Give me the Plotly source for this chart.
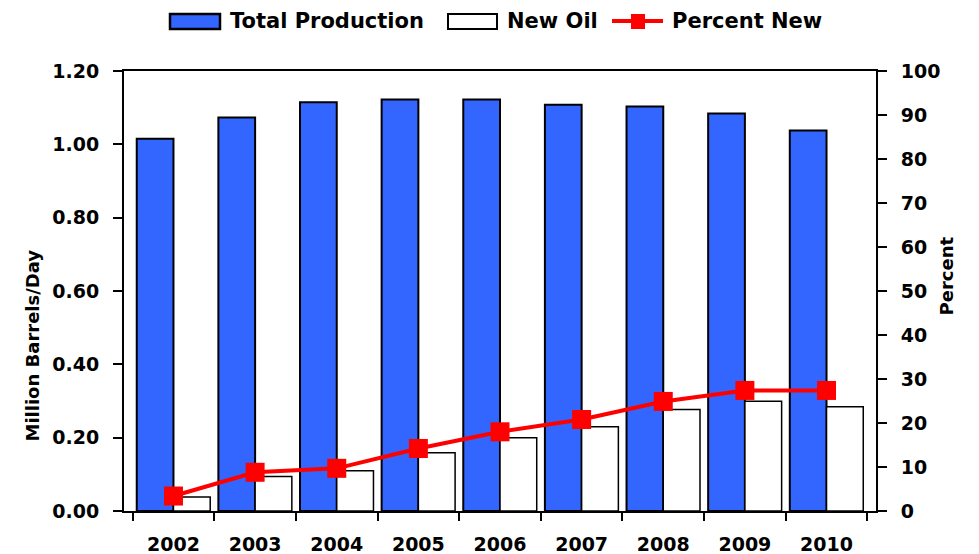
import plotly.graph_objects as go

# data
years = ["2002", "2003", "2004", "2005", "2006", "2007", "2008", "2009", "2010"]
total_production = [1.015, 1.073, 1.115, 1.122, 1.122, 1.108, 1.103, 1.084, 1.038]
new_oil = [0.038, 0.094, 0.110, 0.159, 0.200, 0.230, 0.277, 0.299, 0.284]
percent_new = [3.4, 8.8, 9.7, 14.2, 18.0, 20.8, 24.9, 27.4, 27.4]

legend_names = ["Total Production", "New Oil", "Percent New"]

W, H = 979, 554
# plot area in pixels
L, R, T, B = 124, 876, 71, 511

BLUE = "#3366FF"
RED = "#FF0000"
FONT = "DejaVu Sans"


def px_x(x):
    return (x - L) / (R - L)


def px_y(y):
    return (B - y) / (B - T)


fig = go.Figure()

fig.add_trace(go.Bar(
    x=years, y=total_production, name=legend_names[0],
    marker=dict(color=BLUE, line=dict(color="black", width=2)),
    showlegend=False,
))
fig.add_trace(go.Bar(
    x=years, y=new_oil, name=legend_names[1],
    marker=dict(color="white", line=dict(color="black", width=1.5)),
    showlegend=False,
))
fig.add_trace(go.Scatter(
    x=years, y=percent_new, name=legend_names[2], yaxis="y2",
    mode="lines+markers",
    line=dict(color=RED, width=4),
    marker=dict(symbol="square", size=19, color=RED),
    showlegend=False,
))

tickfont = dict(family=FONT, size=19, color="black", weight="bold")

fig.update_layout(
    width=W, height=H,
    margin=dict(l=L, r=W - R, t=T, b=H - B),
    paper_bgcolor="white", plot_bgcolor="white",
    barmode="group", bargap=0.1, bargroupgap=0,
    xaxis=dict(
        type="category", tickson="boundaries", automargin=False,
        ticks="outside", ticklen=8, tickwidth=1.5, tickcolor="black",
        showline=True, linecolor="black", linewidth=2, mirror=True,
        showgrid=False, tickfont=tickfont, ticklabelstandoff=15,
    ),
    yaxis=dict(
        range=[0, 1.2], dtick=0.2, tickformat=".2f", automargin=False,
        ticks="outside", ticklen=9, tickwidth=1.5, tickcolor="black",
        showline=True, linecolor="black", linewidth=2,
        showgrid=False, zeroline=False, tickfont=tickfont, ticklabelstandoff=10,
    ),
    yaxis2=dict(
        range=[0, 100], dtick=10, overlaying="y", side="right", automargin=False,
        ticks="outside", ticklen=9, tickwidth=1.5, tickcolor="black",
        showline=True, linecolor="black", linewidth=2,
        showgrid=False, zeroline=False, tickfont=tickfont, ticklabelstandoff=10,
    ),
)

# axis titles
title_font = dict(family=FONT, size=18, color="black", weight="bold")
fig.add_annotation(text="Million Barrels/Day", x=px_x(19), y=px_y(346),
                   xref="paper", yref="paper", textangle=-90, showarrow=False,
                   font=title_font)
fig.add_annotation(text="Percent", x=px_x(958), y=px_y(276),
                   xref="paper", yref="paper", textangle=-90, showarrow=False,
                   font=title_font)

# legend drawn by hand so the swatches match the original size
leg_font = dict(family=FONT, size=21, color="black", weight="bold")
ly = 21
fig.add_shape(type="rect", xref="paper", yref="paper",
              x0=px_x(170), x1=px_x(220), y0=px_y(29), y1=px_y(14),
              fillcolor=BLUE, line=dict(color="black", width=2.5))
fig.add_shape(type="rect", xref="paper", yref="paper",
              x0=px_x(448), x1=px_x(497), y0=px_y(29), y1=px_y(14),
              fillcolor="white", line=dict(color="black", width=2))
fig.add_shape(type="line", xref="paper", yref="paper",
              x0=px_x(612), x1=px_x(663), y0=px_y(ly), y1=px_y(ly),
              line=dict(color=RED, width=4))
fig.add_shape(type="rect", xref="paper", yref="paper",
              x0=px_x(631), x1=px_x(645), y0=px_y(29), y1=px_y(14),
              fillcolor=RED, line=dict(color=RED, width=0))
for name, x0 in zip(legend_names, [228, 505, 670]):
    fig.add_annotation(text=name, x=px_x(x0), y=px_y(ly), xref="paper", yref="paper",
                       xanchor="left", yanchor="middle", showarrow=False, font=leg_font)

# drop the default page margin so the figure sits at the window's corner
fig.write_html("out.html", config={"displayModeBar": False},
               post_script="document.body.style.margin='0';")
